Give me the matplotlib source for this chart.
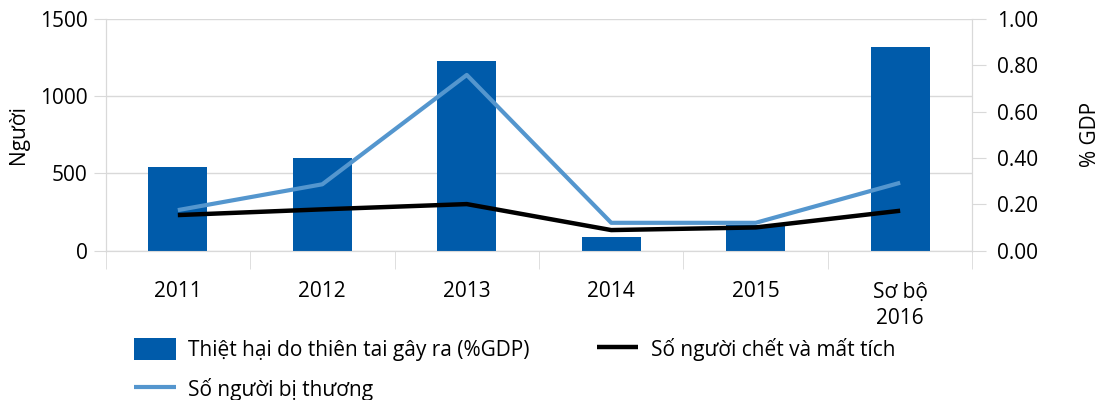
import matplotlib.pyplot as plt
import numpy as np

plt.rcParams['font.family'] = ['Open Sans', 'DejaVu Sans']

# so lieu doc tu hinh
nam = ['2011', '2012', '2013', '2014', '2015', 'Sơ bộ\n2016']
thiet_hai = [0.36, 0.40, 0.82, 0.06, 0.11, 0.88]       # %GDP (truc phai)
chet_mat_tich = [231, 268, 302, 134, 151, 259]        # nguoi (truc trai)
bi_thuong = [263, 430, 1137, 181, 181, 440]           # nguoi (truc trai)

mau_cot = '#005BAA'
mau_xanh = '#5496CE'
mau_luoi = '#D9D9D9'

x = np.arange(len(nam))

fig = plt.figure(figsize=(11, 4), dpi=100)
ax = fig.add_axes([0.096, 0.373, 0.788, 0.58])
ax2 = ax.twinx()

# luoi nam o truc trai (phia duoi), cot va duong ve tren truc phai
ax.set_ylim(0, 1500)
ax.set_yticks([0, 500, 1000, 1500])
ax.grid(axis='y', color=mau_luoi, lw=1)
ax.set_xlim(-0.5, len(nam) - 0.5)

cot = ax2.bar(x, thiet_hai, width=0.41, color=mau_cot, zorder=2,
              label='Thiệt hại do thiên tai gây ra (%GDP)')
l1, = ax2.plot(x, chet_mat_tich, color='black', lw=3.2, transform=ax.transData,
               zorder=4, solid_capstyle='butt', label='Số người chết và mất tích')
l2, = ax2.plot(x, bi_thuong, color=mau_xanh, lw=3, transform=ax.transData,
               zorder=3, solid_capstyle='butt', label='Số người bị thương')
ax2.set_ylim(0, 1.0)
ax2.set_yticks(np.arange(0, 1.01, 0.2))
ax2.set_yticklabels(['%.2f' % v for v in np.arange(0, 1.01, 0.2)])
ax2.set_xlim(-0.5, len(nam) - 0.5)

ax.set_xticks(x)
ax.set_xticklabels(nam, fontsize=15, linespacing=1.35)
ax.set_xticks(np.arange(-0.5, len(nam)), minor=True)
ax.tick_params(axis='x', which='major', length=0, pad=22)
ax.tick_params(axis='x', which='minor', length=13, color=mau_luoi)
ax.tick_params(axis='y', length=9, color=mau_luoi, labelsize=15, pad=4)
ax2.tick_params(axis='y', length=10, color=mau_luoi, labelsize=15, pad=8)

for a in (ax, ax2):
    a.spines['top'].set_visible(False)
    for s in ('left', 'right', 'bottom'):
        a.spines[s].set_color(mau_luoi)

ax.set_ylabel('Người', fontsize=15, labelpad=8)
ax2.set_ylabel('% GDP', fontsize=15, labelpad=30)

fig.legend([cot, l2, l1], [cot.get_label(), l2.get_label(), l1.get_label()],
           ncol=2, loc='lower left', bbox_to_anchor=(0.105, -0.05),
           frameon=False, fontsize=15, handlelength=2.0, handleheight=1.25,
           handletextpad=0.6, columnspacing=3.2, labelspacing=0.85)

fig.savefig('out.png', dpi=100)
